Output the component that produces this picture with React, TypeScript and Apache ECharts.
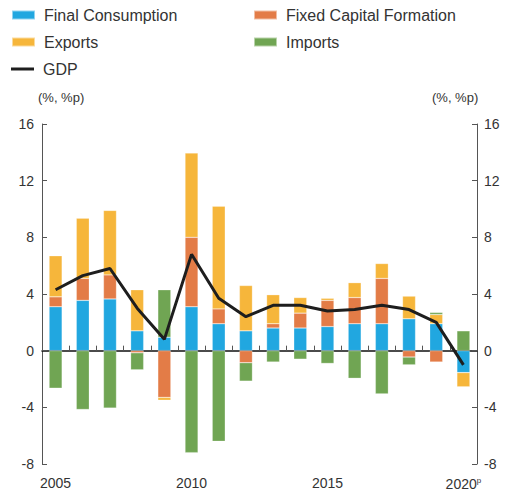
import React, { useEffect, useRef } from "react";
import * as echarts from "echarts";

const years = ["2005", "2006", "2007", "2008", "2009", "2010", "2011", "2012", "2013", "2014", "2015", "2016", "2017", "2018", "2019", "2020"];
const finalConsumption = [3.1, 3.55, 3.65, 1.4, 0.95, 3.1, 1.9, 1.4, 1.6, 1.6, 1.7, 1.9, 1.9, 2.25, 1.9, -1.55];
const fixedCapital = [0.7, 1.55, 1.7, -0.15, -3.3, 4.9, 1.05, -0.85, 0.3, 1.05, 1.85, 1.85, 3.2, -0.45, -0.8, 0];
const exportsData = [2.9, 4.25, 4.55, 2.9, -0.2, 5.95, 7.25, 3.2, 2.05, 1.1, 0.15, 1.05, 1.05, 1.6, 0.65, -1.0];
const importsData = [-2.65, -4.15, -4.05, -1.2, 3.35, -7.2, -6.4, -1.3, -0.8, -0.6, -0.9, -1.95, -3.05, -0.55, 0.15, 1.4];
const gdp = [4.3, 5.3, 5.8, 3.0, 0.8, 6.8, 3.7, 2.4, 3.2, 3.2, 2.8, 2.9, 3.2, 2.9, 2.0, -1.0];
const labelYears: Record<string, string> = { "2005": "2005", "2010": "2010", "2015": "2015", "2020": "2020p" };

const FONT = "'Liberation Sans', Arial, Helvetica, sans-serif";
const colors = { fc: "#21a7e0", fcf: "#e37c47", ex: "#f6b63b", im: "#70a553", gdp: "#1e1e1e" };

export default function App() {
  const ref = useRef<HTMLDivElement>(null);
  useEffect(() => {
    if (!ref.current) return;
    const chart = echarts.init(ref.current, undefined, { renderer: "svg" });
    const legendBase = (name: string, left: number, top: number, h = 9) => ({
      data: [name],
      left,
      top,
      padding: 0,
      itemWidth: 23,
      itemHeight: h,
      icon: "rect",
      selectedMode: false,
      textStyle: { fontFamily: FONT, fontSize: 16, color: "#333", padding: [0, 0, 0, 4] },
    });
    const bar = (name: string, data: number[], color: string) => ({
      name,
      type: "bar",
      stack: "total",
      data,
      barWidth: 13,
      xAxisIndex: 0,
      yAxisIndex: 0,
      itemStyle: { color, borderColor: "rgba(255,255,255,0.5)", borderWidth: 0.5 },
    });
    chart.setOption({
      animation: false,
      textStyle: { fontFamily: FONT },
      grid: { left: 42, right: 29, top: 124, bottom: 32, containLabel: false },
      legend: [
        legendBase("Final Consumption", 11, 7),
        legendBase("Fixed Capital Formation", 253, 7),
        legendBase("Exports", 11, 34),
        legendBase("Imports", 253, 34),
        legendBase("GDP", 11, 61, 3),
      ],
      xAxis: [
        {
          type: "category",
          data: years,
          position: "bottom",
          axisLine: { show: false, onZero: false },
          axisTick: { show: false },
          axisLabel: {
            interval: 0,
            margin: 12,
            formatter: (v: string) => {
              const l = labelYears[v];
              if (!l) return "";
              if (l.endsWith("p")) return "{a|" + l.slice(0, -1) + "}{p|p}";
              return "{a|" + l + "}";
            },
            rich: {
              a: { fontSize: 14, color: "#333", fontFamily: FONT },
              p: { fontSize: 8, color: "#333", fontFamily: FONT, padding: [0, 0, 7, 0] },
            },
          },
        },
        {
          type: "category",
          data: years,
          position: "bottom",
          axisLine: { show: true, onZero: true, lineStyle: { color: "#111", width: 1.5 } },
          axisTick: { show: true, inside: true, length: 5, interval: 0, lineStyle: { color: "#555" } },
          axisLabel: { show: false },
        },
      ],
      yAxis: [
        {
          type: "value",
          position: "left",
          min: -8,
          max: 16,
          interval: 4,
          splitLine: { show: false },
          axisLine: { show: true, lineStyle: { color: "#555" } },
          axisTick: { show: true, inside: true, length: 5, lineStyle: { color: "#555" } },
          axisLabel: { fontSize: 14, color: "#333", margin: 8 },
        },
        {
          type: "value",
          position: "right",
          min: -8,
          max: 16,
          interval: 4,
          splitLine: { show: false },
          axisLine: { show: true, lineStyle: { color: "#555" } },
          axisTick: { show: true, inside: true, length: 5, lineStyle: { color: "#555" } },
          axisLabel: { fontSize: 14, color: "#333", margin: 7 },
        },
      ],
      graphic: [
        { type: "text", left: 38, top: 91, style: { text: "(%, %p)", fontSize: 13, fill: "#333", fontFamily: FONT } },
        { type: "text", left: 432, top: 91, style: { text: "(%, %p)", fontSize: 13, fill: "#333", fontFamily: FONT } },
      ],
      series: [
        bar("Final Consumption", finalConsumption, colors.fc),
        bar("Fixed Capital Formation", fixedCapital, colors.fcf),
        bar("Exports", exportsData, colors.ex),
        bar("Imports", importsData, colors.im),
        {
          name: "GDP",
          type: "line",
          data: gdp,
          symbol: "none",
          xAxisIndex: 0,
          yAxisIndex: 0,
          z: 5,
          itemStyle: { color: colors.gdp },
          lineStyle: { color: colors.gdp, width: 3 },
        },
      ],
    });
    return () => chart.dispose();
  }, []);
  return <div ref={ref} style={{ position: "absolute", left: 0, top: 0, width: 506, height: 496 }} />;
}
